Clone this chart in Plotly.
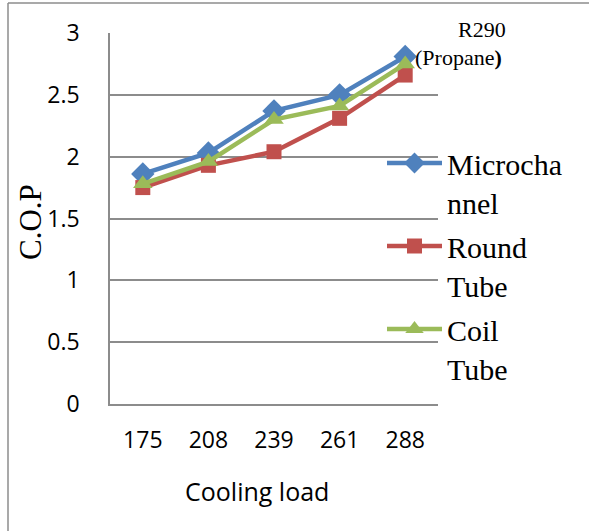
import plotly.graph_objects as go

categories = ["175", "208", "239", "261", "288"]
microchannel = [1.86, 2.03, 2.37, 2.50, 2.81]
round_tube = [1.75, 1.93, 2.04, 2.31, 2.66]
coil_tube = [1.78, 1.96, 2.30, 2.41, 2.75]
y_ticks = [0, 0.5, 1, 1.5, 2, 2.5, 3]
y_tick_labels = ["0", "0.5", "1", "1.5", "2", "2.5", "3"]

W, H = 589, 531
L, R, T, B = 110, 151, 33, 127
pw, ph = W - L - R, H - T - B

def px(xp):
    return (xp - L) / pw

def py(yp):
    return (H - B - yp) / ph

fig = go.Figure()
series = [
    ("Microcha<br>nnel", microchannel, "#4F81BD", "diamond", 18, "g1"),
    ("Round<br>Tube", round_tube, "#C0504D", "square", 15, "g2"),
    ("Coil<br>Tube", coil_tube, "#9BBB59", "triangle-up", 17, "g3"),
]
for name, vals, col, sym, sz, grp in series:
    fig.add_trace(go.Scatter(
        x=categories, y=vals, name=name, mode="lines+markers",
        legendgroup=grp,
        line=dict(color=col, width=4.5),
        marker=dict(symbol=sym, size=sz, color=col, line=dict(width=0)),
    ))

grid = "#8c8c8c"
fig.update_xaxes(
    type="category", range=[-0.5, 4.5], showgrid=False,
    showline=True, linecolor=grid, linewidth=1.5,
    ticks="", ticklabelstandoff=15,
    tickfont=dict(family="Open Sans", size=23, color="black"),
)
fig.update_yaxes(
    range=[0, 3], tickvals=y_ticks, ticktext=y_tick_labels,
    showgrid=True, gridcolor=grid, gridwidth=1.5,
    showline=True, linecolor=grid, linewidth=1.5, zeroline=False,
    ticks="", ticklabelstandoff=24,
    tickfont=dict(family="Open Sans", size=23, color="black"),
)

def ann(text, x, y, size, family, angle=0):
    return dict(text=text, xref="paper", yref="paper", x=px(x), y=py(y),
                xanchor="center", yanchor="middle", textangle=angle,
                showarrow=False,
                font=dict(family=family, size=size, color="black"))

fig.update_layout(
    width=W, height=H,
    margin=dict(l=L, r=R, t=T, b=B),
    paper_bgcolor="white", plot_bgcolor="white",
    showlegend=True,
    legend=dict(
        x=px(382), y=py(137), xanchor="left", yanchor="top",
        font=dict(family="Liberation Serif", size=30, color="black"),
        bgcolor="rgba(0,0,0,0)", valign="top", itemwidth=55,
        tracegroupgap=2,
    ),
    annotations=[
        ann("C.O.P", 30, 222, 31, "Liberation Serif", -90),
        ann("Cooling load", 257, 491, 25, "Open Sans"),
        ann("R290", 482, 30, 22, "Liberation Serif"),
        ann("(Propane<b>)</b>", 458, 57, 22, "Liberation Serif"),
    ],
    shapes=[
        dict(type="line", xref="paper", yref="paper", x0=px(8), x1=px(589),
             y0=py(3), y1=py(3), line=dict(color="#8c8c8c", width=1.5)),
        dict(type="line", xref="paper", yref="paper", x0=px(8), x1=px(8),
             y0=py(3), y1=py(531), line=dict(color="#8c8c8c", width=1.5)),
    ],
)

fig.write_html("out.html")
